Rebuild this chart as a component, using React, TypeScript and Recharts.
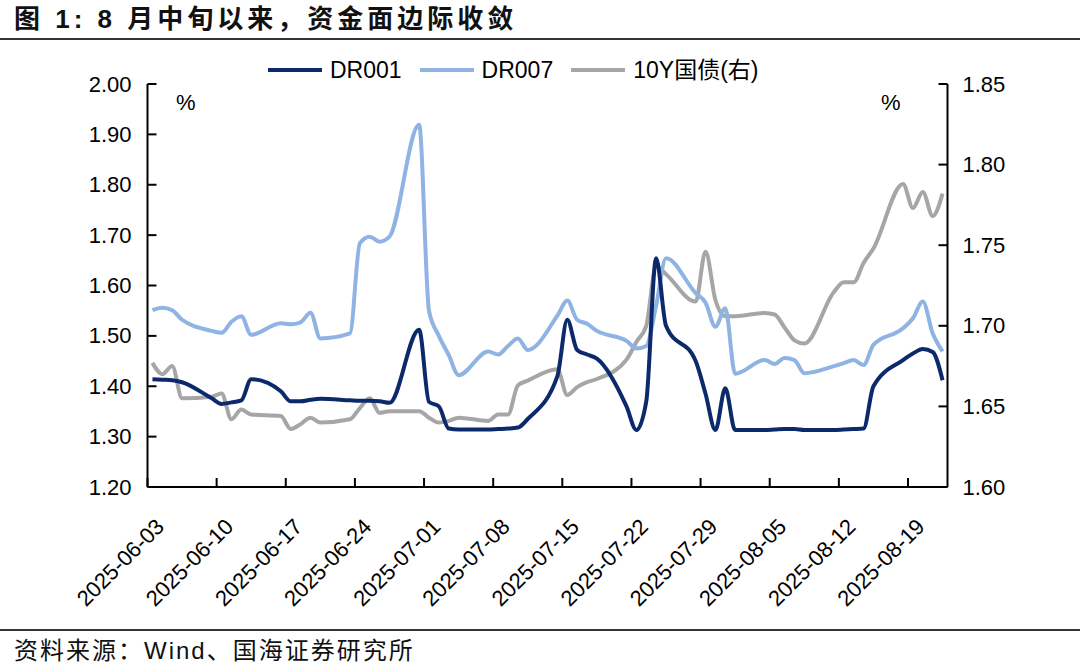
import React from "react";
import { LineChart, Line, XAxis, YAxis } from "recharts";

// trading days shown on the chart
const dates = [
  "2025-06-03", "2025-06-04", "2025-06-05", "2025-06-06",
  "2025-06-09", "2025-06-10", "2025-06-11", "2025-06-12", "2025-06-13",
  "2025-06-16", "2025-06-17", "2025-06-18", "2025-06-19", "2025-06-20",
  "2025-06-23", "2025-06-24", "2025-06-25", "2025-06-26", "2025-06-27",
  "2025-06-30", "2025-07-01", "2025-07-02", "2025-07-03", "2025-07-04",
  "2025-07-07", "2025-07-08", "2025-07-09", "2025-07-10", "2025-07-11",
  "2025-07-14", "2025-07-15", "2025-07-16", "2025-07-17", "2025-07-18",
  "2025-07-21", "2025-07-22", "2025-07-23", "2025-07-24", "2025-07-25",
  "2025-07-28", "2025-07-29", "2025-07-30", "2025-07-31", "2025-08-01",
  "2025-08-04", "2025-08-05", "2025-08-06", "2025-08-07", "2025-08-08",
  "2025-08-11", "2025-08-12", "2025-08-13", "2025-08-14", "2025-08-15",
  "2025-08-18", "2025-08-19", "2025-08-20", "2025-08-21", "2025-08-22",
];

const dr001 = [
  1.414, 1.413, 1.412, 1.408,
  1.376, 1.365, 1.368, 1.372, 1.414,
  1.39, 1.37, 1.37, 1.373, 1.375,
  1.372, 1.371, 1.371, 1.37, 1.367,
  1.512, 1.369, 1.36, 1.316, 1.314,
  1.314, 1.315, 1.316, 1.318, 1.335,
  1.42, 1.532, 1.472, 1.463, 1.455,
  1.36, 1.313, 1.37, 1.654, 1.52,
  1.45, 1.385, 1.313, 1.396, 1.313,
  1.313, 1.314, 1.315, 1.315, 1.313,
  1.313, 1.314, 1.315, 1.316, 1.4,
  1.452, 1.465, 1.474, 1.468, 1.412,
];

const dr007 = [
  1.551, 1.556, 1.551, 1.532,
  1.51, 1.506, 1.528, 1.539, 1.502,
  1.525, 1.523, 1.527, 1.546, 1.495,
  1.505, 1.684, 1.697, 1.687, 1.697,
  1.919, 1.55, 1.5, 1.462, 1.422,
  1.469, 1.463, 1.48, 1.495, 1.472,
  1.54, 1.57, 1.532, 1.524, 1.51,
  1.49, 1.475, 1.48, 1.56, 1.654,
  1.585, 1.566, 1.518, 1.555, 1.425,
  1.452, 1.444, 1.456, 1.452, 1.426,
  1.44, 1.446, 1.452, 1.442, 1.482,
  1.515, 1.535, 1.568, 1.505, 1.469,
];

const bond10y = [
  1.677, 1.67, 1.675, 1.655,
  1.656, 1.658, 1.642, 1.648, 1.645,
  1.644, 1.636, 1.639, 1.643, 1.64,
  1.642, 1.649, 1.655, 1.646, 1.647,
  1.647, 1.643, 1.64, 1.641, 1.643,
  1.641, 1.645, 1.645, 1.663, 1.666,
  1.673, 1.657, 1.662, 1.665, 1.667,
  1.679, 1.69, 1.7, 1.737, 1.732,
  1.715, 1.746, 1.716, 1.706, 1.706,
  1.708, 1.707, 1.699, 1.691, 1.689,
  1.721, 1.727, 1.727, 1.739, 1.748,
  1.788, 1.773, 1.783, 1.768, 1.782,
];

const xTickLabels = [
  "2025-06-03", "2025-06-10", "2025-06-17", "2025-06-24", "2025-07-01", "2025-07-08",
  "2025-07-15", "2025-07-22", "2025-07-29", "2025-08-05", "2025-08-12", "2025-08-19",
];
const leftTicks = [1.2, 1.3, 1.4, 1.5, 1.6, 1.7, 1.8, 1.9, 2.0];
const rightTicks = [1.6, 1.65, 1.7, 1.75, 1.8, 1.85];

const DAY = 86400000;
const start = Date.parse(dates[0]);
const dayOf = (s: string) => (Date.parse(s) - start) / DAY;

// each trading day sits in the middle of its calendar-day slot
const data = dates.map((d, i) => ({
  x: dayOf(d) + 0.5,
  dr001: dr001[i],
  dr007: dr007[i],
  bond: bond10y[i],
}));
const xTicks = xTickLabels.map(dayOf);

const FONT = '"Liberation Sans", Arial, "Noto Sans CJK SC", sans-serif';

const C1 = "#0c2a6b";
const C7 = "#8fb3e3";
const CG = "#a6a6a6";

function LeftTick({ x, y, payload }: any) {
  return (
    <g>
      <line x1={x} x2={x + 9} y1={y} y2={y} stroke="#000" strokeWidth={2} />
      <text x={x - 16} y={y} textAnchor="end" dominantBaseline="central" fontSize={22} fontFamily={FONT} fill="#000">
        {Number(payload.value).toFixed(2)}
      </text>
    </g>
  );
}

function RightTick({ x, y, payload }: any) {
  return (
    <g>
      <line x1={x} x2={x - 9} y1={y} y2={y} stroke="#000" strokeWidth={2} />
      <text x={x + 15} y={y} textAnchor="start" dominantBaseline="central" fontSize={22} fontFamily={FONT} fill="#000">
        {Number(payload.value).toFixed(2)}
      </text>
    </g>
  );
}

function DateTick({ x, y, payload }: any) {
  const label = new Date(start + payload.value * DAY).toISOString().slice(0, 10);
  const tx = x + 18;
  const ty = y + 41;
  return (
    <g>
      <line x1={x} x2={x} y1={y} y2={y - 9} stroke="#000" strokeWidth={2} />
      <text x={tx} y={ty} textAnchor="end" transform={`rotate(-45 ${tx} ${ty})`} fontSize={22} fontFamily={FONT} fill="#000">
        {label}
      </text>
    </g>
  );
}

const legendItems = [
  { name: "DR001", color: C1 },
  { name: "DR007", color: C7 },
  { name: "10Y国债(右)", color: CG },
];

export default function App() {
  return (
    <div style={{ position: "absolute", left: 0, top: 0, width: 1080, height: 666, background: "#fff", overflow: "hidden", fontFamily: FONT }}>
      <div style={{ position: "absolute", left: 14, top: 2, fontSize: 26, fontWeight: 700, letterSpacing: 4, color: "#111", whiteSpace: "nowrap", lineHeight: "34px" }}>
        图 1: 8 月中旬以来，资金面边际收敛
      </div>
      <div style={{ position: "absolute", left: 0, top: 38, width: 1080, height: 2, background: "#333" }} />

      <LineChart width={1080} height={666} data={data} margin={{ top: 84, right: 0, bottom: 0, left: 0 }}>
        <XAxis
          dataKey="x"
          type="number"
          domain={[0, 81]}
          ticks={xTicks}
          height={179}
          tickSize={0}
          tickMargin={0}
          tickLine={false}
          axisLine={{ stroke: "#000", strokeWidth: 2 }}
          tick={<DateTick />}
          interval={0}
        />
        <YAxis
          yAxisId="left"
          orientation="left"
          width={147.5}
          domain={[1.2, 2.0]}
          ticks={leftTicks}
          tickSize={0}
          tickMargin={0}
          tickLine={false}
          axisLine={{ stroke: "#000", strokeWidth: 2 }}
          tick={<LeftTick />}
          interval={0}
        />
        <YAxis
          yAxisId="right"
          orientation="right"
          width={132.5}
          domain={[1.6, 1.85]}
          ticks={rightTicks}
          tickSize={0}
          tickMargin={0}
          tickLine={false}
          axisLine={{ stroke: "#000", strokeWidth: 2 }}
          tick={<RightTick />}
          interval={0}
        />
        <Line yAxisId="right" type="monotone" dataKey="bond" stroke={CG} strokeWidth={4} dot={false} isAnimationActive={false} />
        <Line yAxisId="left" type="monotone" dataKey="dr007" stroke={C7} strokeWidth={4} dot={false} isAnimationActive={false} />
        <Line yAxisId="left" type="monotone" dataKey="dr001" stroke={C1} strokeWidth={4} dot={false} isAnimationActive={false} />
      </LineChart>

      <div style={{ position: "absolute", left: 268, top: 57, display: "flex", alignItems: "center", fontSize: 23, color: "#000", whiteSpace: "nowrap" }}>
        {legendItems.map((it) => (
          <div key={it.name} style={{ display: "flex", alignItems: "center", marginRight: 18 }}>
            <div style={{ width: 54, height: 4, background: it.color, marginRight: 8 }} />
            <span style={{ lineHeight: "26px" }}>{it.name}</span>
          </div>
        ))}
      </div>

      <div style={{ position: "absolute", left: 176, top: 90, fontSize: 22 }}>%</div>
      <div style={{ position: "absolute", left: 881, top: 90, fontSize: 22 }}>%</div>

      <div style={{ position: "absolute", left: 0, top: 629, width: 1080, height: 2, background: "#333" }} />
      <div style={{ position: "absolute", left: 14, top: 636, fontSize: 24, letterSpacing: 2, color: "#111", whiteSpace: "nowrap", lineHeight: "30px" }}>
        资料来源：Wind、国海证券研究所
      </div>
    </div>
  );
}
